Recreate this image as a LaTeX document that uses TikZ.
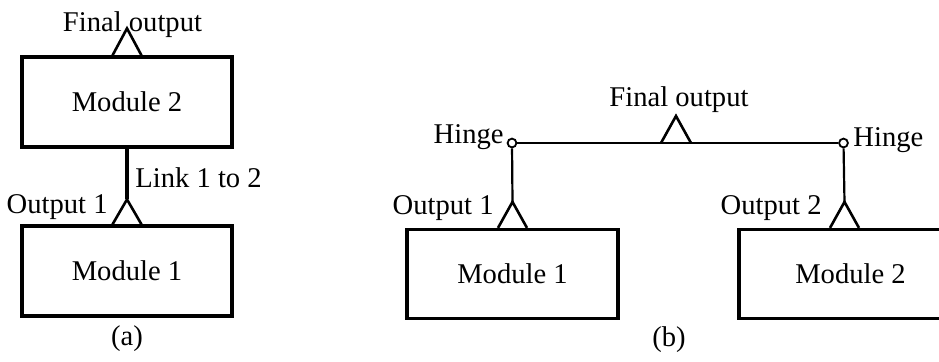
\documentclass[tikz,border=0pt]{standalone}
\usepackage{fontspec}
\setmainfont{Liberation Serif}
\usetikzlibrary{calc}
\tikzset{
 lbl/.style={font=\fontsize{14.3}{17}\selectfont, inner sep=0pt},
 modbox/.style={draw, line width=1.6pt, minimum width=105pt, minimum height=45pt, inner sep=0pt, font=\fontsize{14.3}{17}\selectfont},
 tri/.style={line width=1.3pt, line join=miter},
 thickline/.style={line width=1.6pt},
 thinline/.style={line width=1.1pt},
 hingept/.style={circle, draw, line width=0.9pt, fill=white, minimum size=4.4pt, inner sep=0pt},
}
\begin{document}
\begin{tikzpicture}[x=0.5pt,y=-0.5pt]
\clip (0,0) rectangle (939,361);
% ---------- (a)
\node[modbox] (m2a) at (127,102) {Module 2};
\node[modbox] (m1a) at (127,271) {Module 1};
\draw[tri] ($(m2a.north)+(-14.5,0)$) -- ($(m2a.north)+(0,-27)$) coordinate (fa) -- ($(m2a.north)+(14.5,0)$);
\draw[tri] ($(m1a.north)+(-14.5,0)$) -- ($(m1a.north)+(0,-25)$) coordinate (oa) -- ($(m1a.north)+(14.5,0)$);
\draw[thickline] (m2a.south) -- (oa);
\node[lbl, anchor=base] (tfa) at (132.5,31) {Final output};
\node[lbl, anchor=base west] (tla) at (135,187) {Link 1 to 2};
\node[lbl, anchor=base east] (toa) at (108,213) {Output 1};
\node[lbl] (capa) at (127,339) {(a)};
% ---------- (b)
\node[modbox, minimum width=105.5pt, minimum height=44.5pt] (m1b) at (512.5,274) {Module 1};
\node[modbox, minimum width=105.5pt, minimum height=44.5pt] (m2b) at (844.5,274) {\hspace*{6pt}Module 2};
\draw[tri] ($(m1b.north)+(-14.5,0)$) -- ($(m1b.north)+(0,-26)$) coordinate (o1b) -- ($(m1b.north)+(14.5,0)$);
\draw[tri] ($(m2b.north)+(-14.5,0)$) -- ($(m2b.north)+(0,-26)$) coordinate (o2b) -- ($(m2b.north)+(14.5,0)$);
\node[hingept] (h1) at (512,143) {};
\node[hingept] (h2) at (843.5,143) {};
\draw[thinline] (h1) -- (h2);
\draw[thinline] (h1) -- (o1b);
\draw[thinline] (h2) -- (o2b);
\coordinate (fb) at (676,143);
\draw[tri] ($(fb)+(-15,0)$) -- ($(fb)+(0,-27)$) coordinate (fbapex) -- ($(fb)+(15,0)$);
\node[lbl, anchor=base] (tfb) at (679,106) {Final output};
\node[lbl, anchor=base east] (th1) at (504,143) {Hinge};
\node[lbl, anchor=base west] (th2) at (853,146) {Hinge};
\node[lbl, anchor=base east] (to1b) at (494,214) {Output 1};
\node[lbl, anchor=base east] (to2b) at (822,214) {Output 2};
\node[lbl] (capb) at (669,340) {(b)};
\end{tikzpicture}
\end{document}
